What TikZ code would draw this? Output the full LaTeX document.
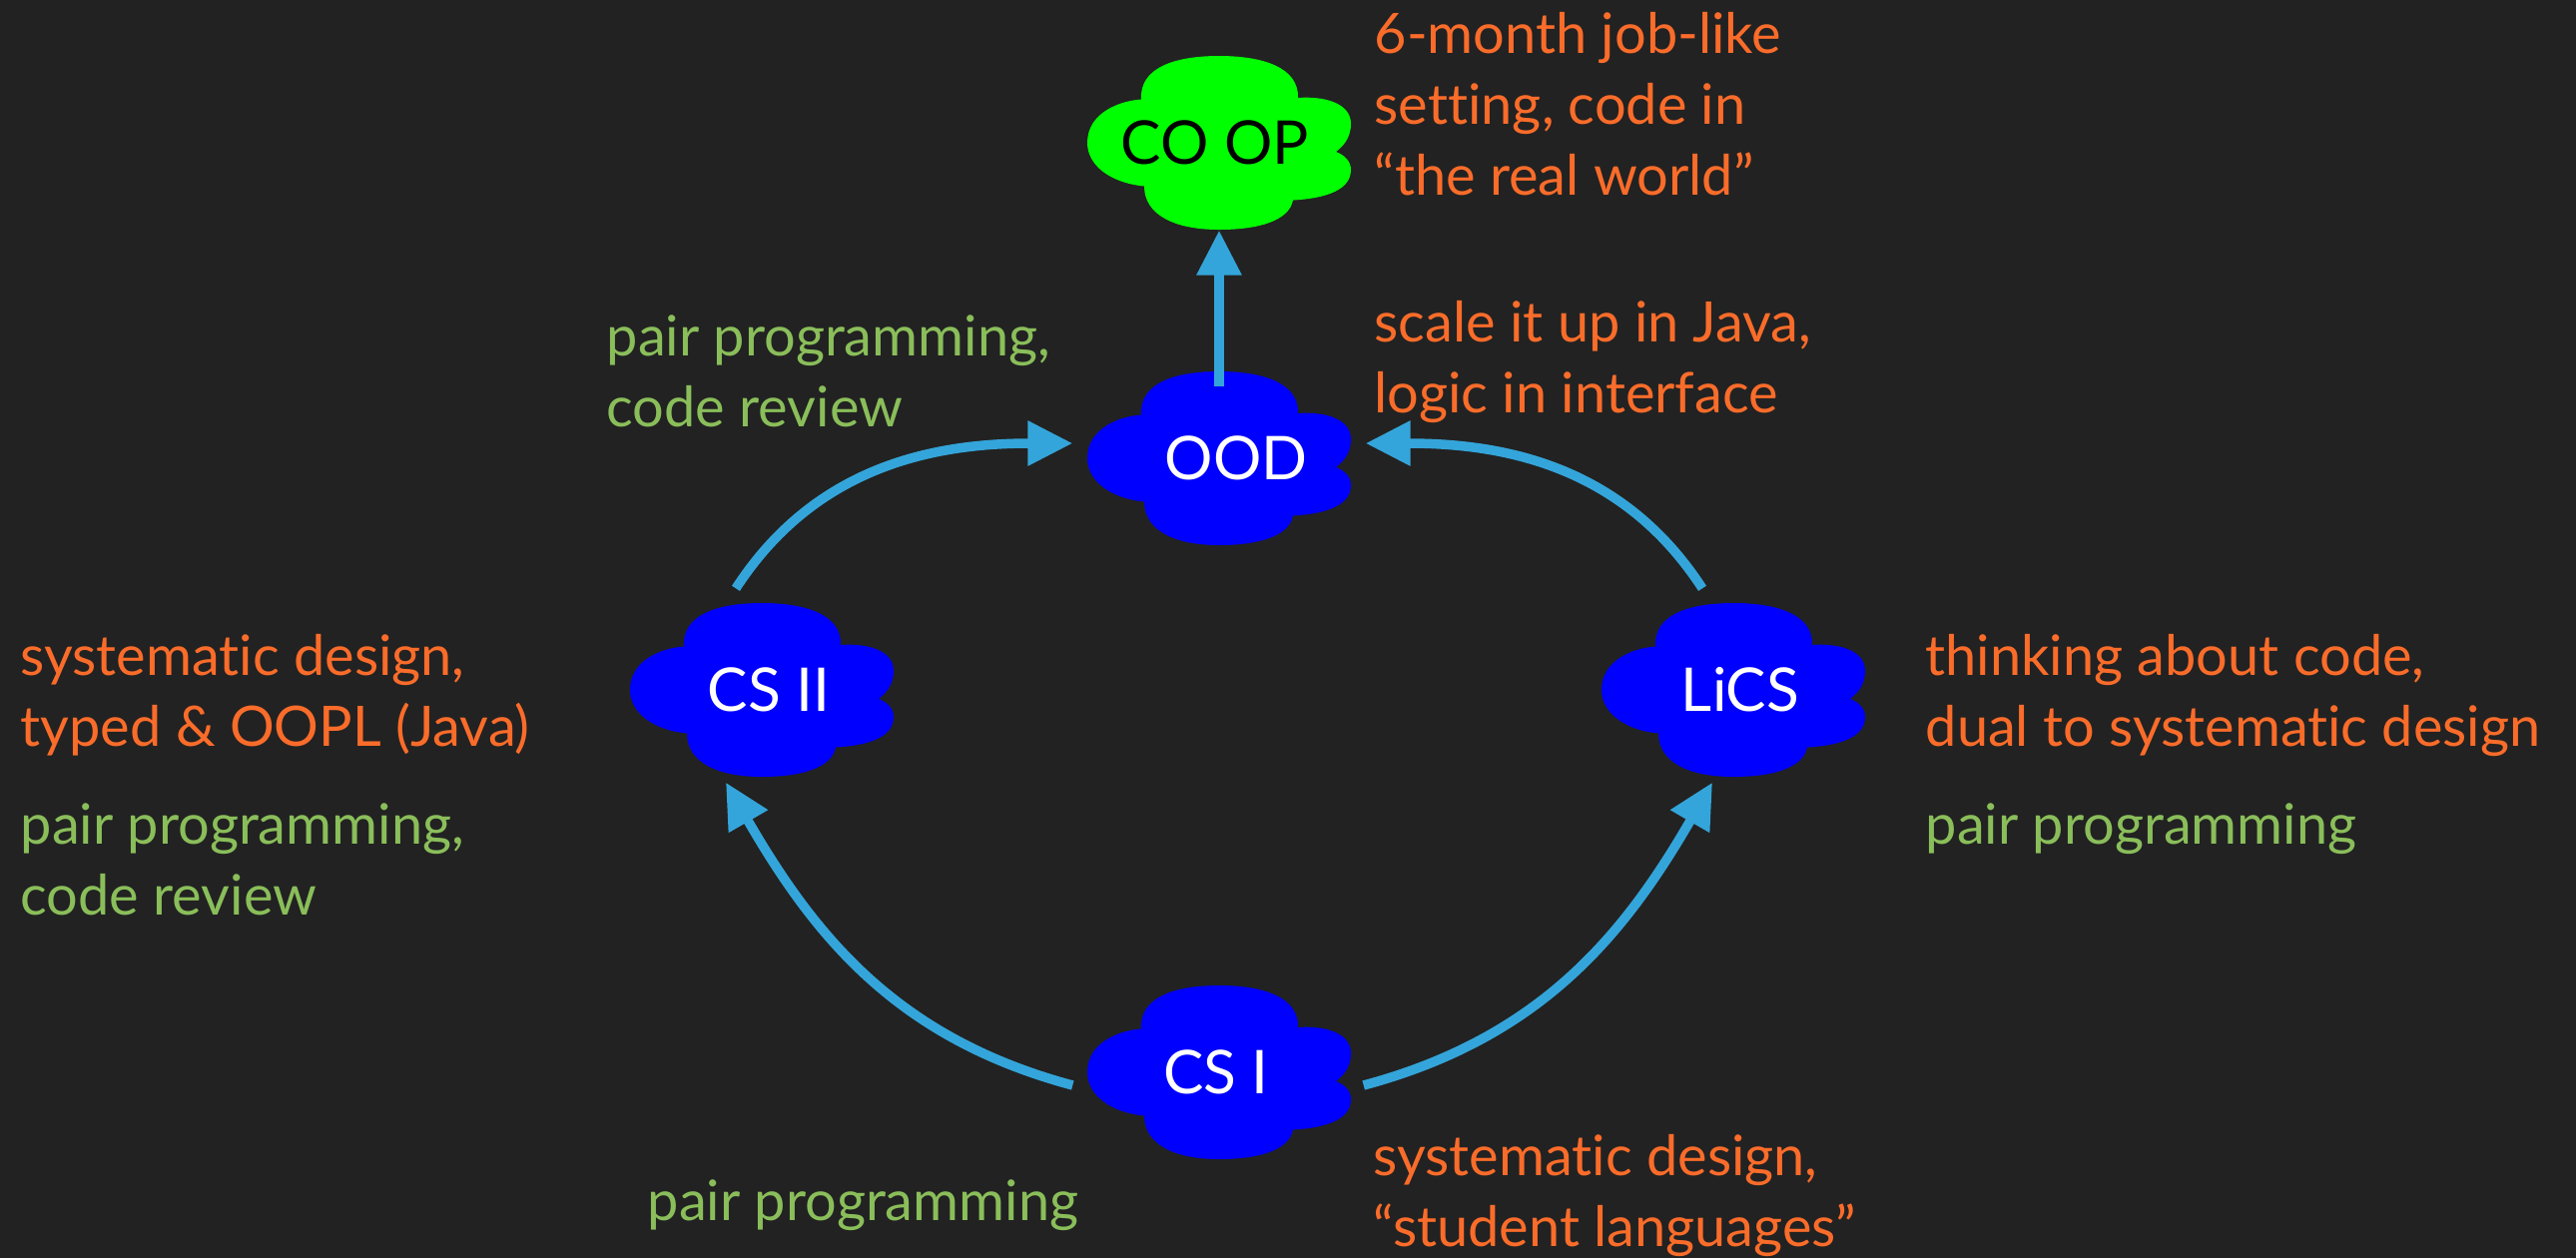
\documentclass[tikz,border=0pt]{standalone}
\usepackage{fontspec}
\setmainfont{Lato}[Ligatures=NoCommon]
\usetikzlibrary{arrows.meta}
\definecolor{bgc}{RGB}{34,34,34}
\definecolor{orangetxt}{RGB}{250,108,42}
\definecolor{greentxt}{RGB}{138,190,90}
\definecolor{arrowc}{RGB}{52,165,218}
\definecolor{cloudblue}{RGB}{0,0,255}
\definecolor{cloudgreen}{RGB}{0,255,0}
\begin{document}
\begin{tikzpicture}[
  cloudbox/.style={minimum width=2.64cm, minimum height=1.74cm, inner sep=0pt},
  cloudtext/.style={font=\fontsize{17.2pt}{20pt}\selectfont, text=white, inner sep=0pt},
  % multi-line notes are anchored at the baseline of their last line
  note/.style={font=\fontsize{15.9pt}{20.2pt}\selectfont, align=left, anchor=base west, inner sep=0pt},
  design/.style={note, text=orangetxt},
  practice/.style={note, text=greentxt},
  flow/.style={draw=arrowc, line width=0.095cm, -{Triangle[length=0.45cm, width=0.43cm]}},
  pics/cloudpic/.style={code={
    \fill[#1] (-0.78,0.435) .. controls (-0.80,0.75) and (-0.45,0.87) .. (0,0.87)
      .. controls (0.45,0.87) and (0.80,0.75) .. (0.79,0.45)
      .. controls (1.05,0.47) and (1.32,0.40) .. (1.32,0.19)
      .. controls (1.32,0.03) and (1.22,-0.05) .. (1.17,-0.09)
      .. controls (1.25,-0.12) and (1.32,-0.18) .. (1.32,-0.27)
      .. controls (1.32,-0.50) and (1.00,-0.56) .. (0.74,-0.575)
      .. controls (0.70,-0.78) and (0.40,-0.87) .. (0,-0.87)
      .. controls (-0.45,-0.87) and (-0.75,-0.72) .. (-0.75,-0.435)
      .. controls (-1.10,-0.40) and (-1.32,-0.22) .. (-1.32,0.0)
      .. controls (-1.32,0.30) and (-1.00,0.42) .. (-0.78,0.435) -- cycle;
  }}
]
% canvas
\fill[bgc] (0,0) rectangle (25.8,-12.6);
\useasboundingbox (0,0) rectangle (25.8,-12.6);

% clouds
\pic at (12.21,-1.43) {cloudpic=cloudgreen};
\pic at (12.21,-4.59) {cloudpic=cloudblue};
\pic at (7.63,-6.91) {cloudpic=cloudblue};
\pic at (17.36,-6.91) {cloudpic=cloudblue};
\pic at (12.21,-10.74) {cloudpic=cloudblue};

\node[cloudbox, label={[cloudtext, text=black, xshift=-0.04cm]center:CO OP}] (coop) at (12.21,-1.43) {};
\node[cloudbox, label={[cloudtext, xshift=0.17cm]center:OOD}] (ood) at (12.21,-4.59) {};
\node[cloudbox, label={[cloudtext, xshift=0.07cm]center:CS II}] (csii) at (7.63,-6.91) {};
\node[cloudbox, label={[cloudtext, xshift=0.07cm]center:LiCS}] (lics) at (17.36,-6.91) {};
\node[cloudbox, label={[cloudtext, xshift=-0.03cm]center:CS I}] (csi) at (12.21,-10.74) {};

% connectors
\draw[flow] ([yshift=-0.16cm]ood.north) -- (coop.south);
\draw[flow] ([xshift=-0.26cm,yshift=0.14cm]csii.north) to[out=57,in=180] ([xshift=-0.14cm,yshift=0.15cm]ood.west);
\draw[flow] ([xshift=-0.31cm,yshift=0.14cm]lics.north) to[out=123,in=0] ([xshift=0.14cm,yshift=0.15cm]ood.east);
\draw[flow] ([xshift=-0.14cm,yshift=-0.13cm]csi.west) to[out=165,in=-60] ([xshift=-0.36cm,yshift=-0.05cm]csii.south);
\draw[flow] ([xshift=0.12cm,yshift=-0.13cm]csi.east) to[out=15,in=240] ([xshift=-0.21cm,yshift=-0.05cm]lics.south);

% notes
\node[design] (coopnote) at (13.76,-1.95) {6-month job-like\\setting, code in\\“the real world”};
\node[design] (oodnote) at (13.76,-4.13) {scale it up in Java,\\logic in interface};
\node[practice] (oodpair) at (6.07,-4.27) {pair programming,\\code review};
\node[design] (csiinote) at (0.20,-7.47) {systematic design,\\typed \& OOPL (Java)};
\node[practice] (csiipair) at (0.20,-9.16) {pair programming,\\code review};
\node[design] (licsnote) at (19.28,-7.47) {thinking about code,\\dual to systematic design};
\node[practice] (licspair) at (19.28,-8.45) {pair programming};
\node[practice] (csipair) at (6.48,-12.22) {pair programming};
\node[design] (csinote) at (13.75,-12.48) {systematic design,\\“student languages”};
\end{tikzpicture}
\end{document}
